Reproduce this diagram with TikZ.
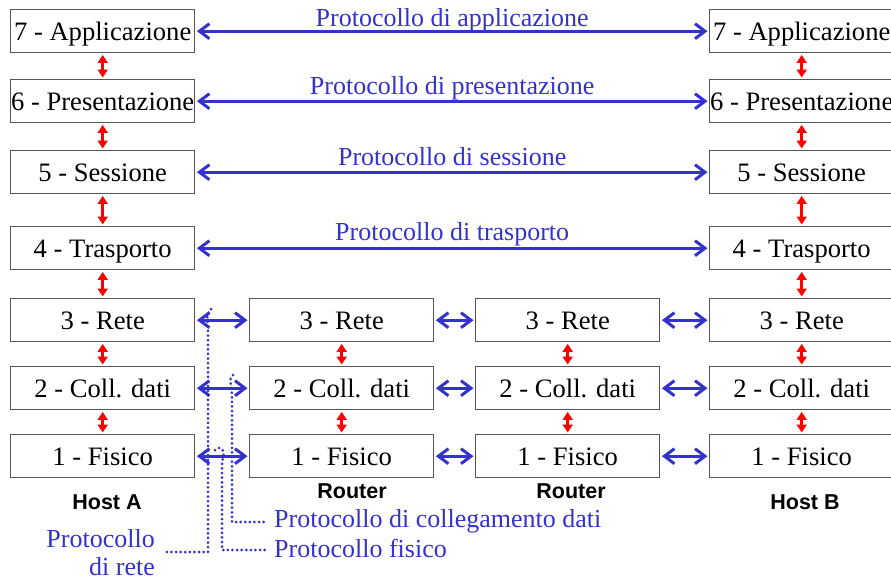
\documentclass[tikz,border=0pt]{standalone}
\usepackage{fontspec}
\setmainfont{Liberation Serif}
\setsansfont{Liberation Sans}
\usetikzlibrary{arrows.meta}
\definecolor{pblue}{RGB}{51,51,204}
\definecolor{bgray}{RGB}{85,85,85}
\begin{document}
\begin{tikzpicture}[x=1pt,y=-1pt,
  layer/.style={draw=bgray, line width=1.4pt, minimum width=184pt, minimum height=43pt,
    inner sep=0pt, text height=22pt, text depth=4pt,
    font=\fontsize{26.6}{30}\selectfont, anchor=north west},
  bluearr/.style={draw=pblue, line width=3pt, {Straight Barb[length=10pt,width=15pt]}-{Straight Barb[length=10pt,width=15pt]}, shorten <=1.5pt, shorten >=1.5pt},
  redarr/.style={draw=red, line width=3pt, {Triangle[length=8pt,width=10pt]}-{Triangle[length=8pt,width=10pt]}, shorten <=1.5pt, shorten >=1.5pt},
  plab/.style={text=pblue, font=\fontsize{26}{28}\selectfont, inner sep=0pt, anchor=base},
  hostlab/.style={font=\sffamily\bfseries\fontsize{21.5}{24}\selectfont, inner sep=0pt, anchor=base},
  dots/.style={draw=pblue, line width=3pt, line cap=round, dash pattern=on 0pt off 4.6pt}]
\useasboundingbox (0,0) rectangle (891,581);

% left host A
\node[layer] (A7) at (10,9)   {7 - Applicazione};
\node[layer] (A6) at (10,79)  {6 - Presentazione};
\node[layer] (A5) at (10,150) {5 - Sessione};
\node[layer] (A4) at (10,226) {4 - Trasporto};
\node[layer] (A3) at (10,298) {3 - Rete};
\node[layer] (A2) at (10,366) {2 - Coll. dati};
\node[layer] (A1) at (10,434) {1 - Fisico};
% right host B
\node[layer] (B7) at (709,9)   {7 - Applicazione};
\node[layer] (B6) at (709,79)  {6 - Presentazione};
\node[layer] (B5) at (709,150) {5 - Sessione};
\node[layer] (B4) at (709,226) {4 - Trasporto};
\node[layer] (B3) at (709,298) {3 - Rete};
\node[layer] (B2) at (709,366) {2 - Coll. dati};
\node[layer] (B1) at (709,434) {1 - Fisico};
% routers
\node[layer] (R3) at (249,298) {3 - Rete};
\node[layer] (R2) at (249,366) {2 - Coll. dati};
\node[layer] (R1) at (249,434) {1 - Fisico};
\node[layer] (S3) at (475,298) {3 - Rete};
\node[layer] (S2) at (475,366) {2 - Coll. dati};
\node[layer] (S1) at (475,434) {1 - Fisico};

% vertical red arrows
\foreach \c in {A,B}{
  \draw[redarr] (\c7.south) -- (\c6.north);
  \draw[redarr] (\c6.south) -- (\c5.north);
  \draw[redarr] (\c5.south) -- (\c4.north);
  \draw[redarr] (\c4.south) -- (\c3.north);
  \draw[redarr] (\c3.south) -- (\c2.north);
  \draw[redarr] (\c2.south) -- (\c1.north);
}
\foreach \c in {R,S}{
  \draw[redarr] (\c3.south) -- (\c2.north);
  \draw[redarr] (\c2.south) -- (\c1.north);
}

% peer protocols
\draw[bluearr] (A7.east) -- node[plab, yshift=5pt]{Protocollo di applicazione} (B7.west);
\draw[bluearr] (A6.east) -- node[plab, yshift=7pt]{Protocollo di presentazione} (B6.west);
\draw[bluearr] (A5.east) -- node[plab, yshift=7pt]{Protocollo di sessione} (B5.west);
\draw[bluearr] (A4.east) -- node[plab, yshift=8pt]{Protocollo di trasporto} (B4.west);

\foreach \r in {3,2,1}{
  \draw[bluearr] (A\r.east) -- (R\r.west);
  \draw[bluearr] (R\r.east) -- (S\r.west);
  \draw[bluearr] (S\r.east) -- (B\r.west);
}

% labels under columns
\node[hostlab] (hA) at (107,509) {Host A};
\node[hostlab] (hR) at (352,498) {Router};
\node[hostlab] (hS) at (571,498) {Router};
\node[hostlab] (hB) at (805,509) {Host B};

% dotted leaders
\node[plab, anchor=base west] (tcoll) at (274,527) {Protocollo di collegamento dati};
\node[plab, anchor=base west] (tfis) at (274,557) {Protocollo fisico};
\node[plab, anchor=base east] (tret1) at (155,547) {Protocollo};
\node[plab, anchor=base east] (tret2) at (155,575) {di rete};

\coordinate (dR) at (211,309);
\coordinate (dC) at (233,375);
\coordinate (dF) at (215,450);
\coordinate (eC) at (265,522);
\coordinate (eF) at (265,550);
\coordinate (eR) at (165,552);
\draw[dots] (dR) .. controls (205,315) and (208,320) .. (208,330) -- (208,552) -- (eR);
\draw[dots] (dC) .. controls (228,380) and (232,385) .. (232,395) -- (232,522) -- (eC);
\draw[dots] (dF) .. controls (222,444) and (226,452) .. (222,462) -- (222,550) -- (eF);
\end{tikzpicture}
\end{document}
